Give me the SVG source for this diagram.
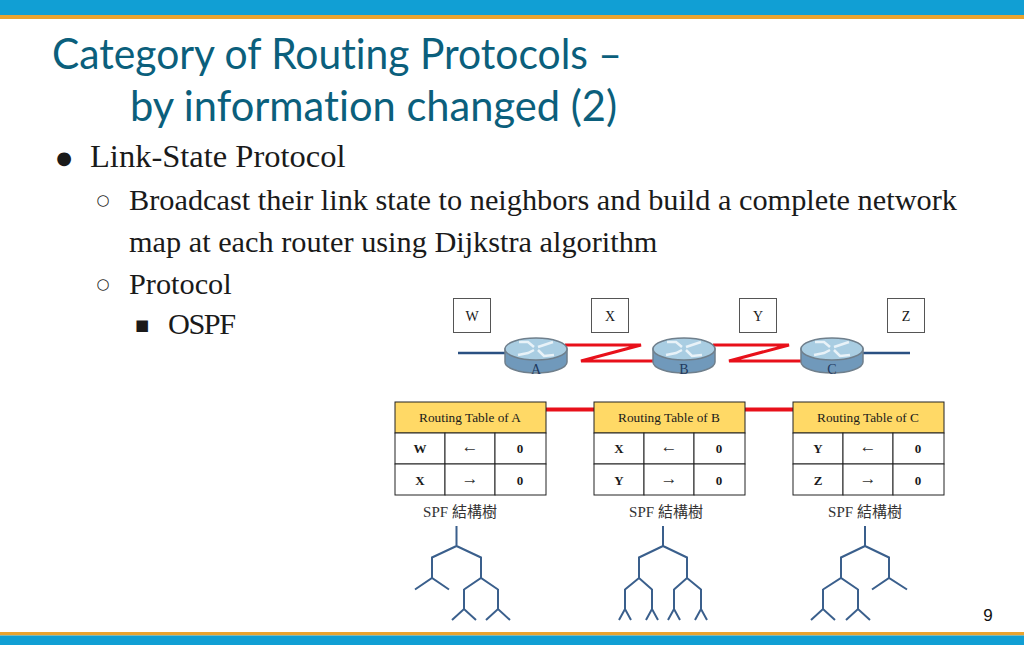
<svg xmlns="http://www.w3.org/2000/svg" width="1024" height="645" viewBox="0 0 1024 645">
<style>
.title{font:42px "Lato","Open Sans",sans-serif;fill:#0b5f7c;font-variant-ligatures:none}
.b1{font:32.500px "Liberation Serif",serif;fill:#1a1a1a}
.b2{font:30.300px "Liberation Serif",serif;fill:#1a1a1a}
.bul{font:15px "DejaVu Sans",sans-serif;fill:#1a1a1a;text-anchor:middle}
.box{fill:#fff;stroke:#555;stroke-width:1}
.lbl{font:14px "Liberation Serif",serif;fill:#1a1a1a;text-anchor:middle}
.rl{font:14px "Liberation Serif",serif;fill:#1f3a5f;text-anchor:middle}
.hd{fill:#ffd966;stroke:#222;stroke-width:1}
.cell{fill:#fff;stroke:#222;stroke-width:1}
.th{font:13.300px "Liberation Serif",serif;fill:#1a1a1a;text-anchor:middle}
.td{font:bold 13px "Liberation Serif",serif;fill:#1a1a1a;text-anchor:middle}
.ar{font:17px "Liberation Serif","DejaVu Sans",serif;fill:#333;text-anchor:middle}
.spf{font:15px "Liberation Serif","Noto Sans CJK TC",sans-serif;fill:#333;text-anchor:middle}
.red{fill:none;stroke:#e8101a;stroke-width:3}
.blue{fill:none;stroke:#2a5082;stroke-width:2.400}
.tree{fill:none;stroke:#3a5f8c;stroke-width:2}
.rtop{fill:#a9cde2;stroke:#6f7f8c;stroke-width:1.500}
.rbody{fill:#7099bb;stroke:#6f7f8c;stroke-width:1.500}
.rarrow{fill:none;stroke:#e8f2f8;stroke-width:2.500}
</style>
<defs>
<g id="router">
<path class="rbody" d="M-31 0V13A31 11 0 0 0 31 13V0Z"/>
<ellipse class="rtop" cx="0" cy="0" rx="31" ry="11"/>
<path class="rarrow" d="M-17-7L-8-7L-2-2M17-7L8-4L2-2M-18 6L-8 4L-2 1M18 6L8 7L2 1"/>
</g>
<g id="row">
<rect class="cell" x="0" y="0" width="50" height="31"/>
<rect class="cell" x="50" y="0" width="50" height="31"/>
<rect class="cell" x="100" y="0" width="51" height="31"/>
</g>
</defs>

<g id="frame">
<rect x="0" y="0" width="1024" height="15" fill="#119fd4"/>
<rect x="0" y="15" width="1024" height="4" fill="#eba42f"/>
<rect x="0" y="632" width="1024" height="3.500" fill="#eba42f"/>
<rect x="0" y="635.500" width="1024" height="9.500" fill="#119fd4"/>
</g>

<g id="text">
<text class="title" x="52" y="69" textLength="570" lengthAdjust="spacingAndGlyphs">Category of Routing Protocols –</text>
<text class="title" x="130" y="121" textLength="487" lengthAdjust="spacingAndGlyphs">by information changed (2)</text>
<text class="bul" x="64" y="164" style="font-size:18px">●</text>
<text class="b1" x="90" y="167">Link-State Protocol</text>
<text class="bul" x="103" y="205">○</text>
<text class="b2" x="129" y="210">Broadcast their link state to neighbors and build a complete network</text>
<text class="b2" x="129" y="252">map at each router using Dijkstra algorithm</text>
<text class="bul" x="103" y="289">○</text>
<text class="b2" x="129" y="294">Protocol</text>
<text class="bul" x="142" y="330">■</text>
<text class="b2" x="168" y="334" textLength="68">OSPF</text>
<text x="988" y="621" font-family="Liberation Sans,sans-serif" font-size="17" fill="#111" text-anchor="middle">9</text>
</g>

<g id="connectors">
<path class="blue" d="M458 353H506M860 353H910"/>
<path class="red" d="M565 345H641L581 361H654M713 345H789L729 361H802"/>
<path class="red" style="stroke-width:4" d="M546 409.500H594M745 409.500H793"/>
</g>

<g id="node-W"><rect class="box" x="453.500" y="298.500" width="37" height="34"/><text class="lbl" x="472" y="321">W</text></g>
<g id="node-X"><rect class="box" x="591.500" y="298.500" width="37" height="34"/><text class="lbl" x="610" y="321">X</text></g>
<g id="node-Y"><rect class="box" x="739.500" y="298.500" width="37" height="34"/><text class="lbl" x="758" y="321">Y</text></g>
<g id="node-Z"><rect class="box" x="887.500" y="298.500" width="37" height="34"/><text class="lbl" x="906" y="321">Z</text></g>

<g id="router-A"><use href="#router" x="536" y="349"/><text class="rl" x="536" y="374">A</text></g>
<g id="router-B"><use href="#router" x="684" y="349"/><text class="rl" x="684" y="374">B</text></g>
<g id="router-C"><use href="#router" x="832" y="349"/><text class="rl" x="832" y="374">C</text></g>

<g id="table-A">
<rect class="hd" x="395" y="402" width="151" height="31"/>
<text class="th" x="470" y="422">Routing Table of A</text>
<use href="#row" x="395" y="433"/><use href="#row" x="395" y="464"/>
<text class="td" x="420" y="453">W</text><text class="ar" x="470" y="452">←</text><text class="td" x="520" y="453">0</text>
<text class="td" x="420" y="485">X</text><text class="ar" x="470" y="484">→</text><text class="td" x="520" y="485">0</text>
<text class="spf" x="460" y="517">SPF 結構樹</text>
</g>
<g id="table-B">
<rect class="hd" x="594" y="402" width="151" height="31"/>
<text class="th" x="669" y="422">Routing Table of B</text>
<use href="#row" x="594" y="433"/><use href="#row" x="594" y="464"/>
<text class="td" x="619" y="453">X</text><text class="ar" x="669" y="452">←</text><text class="td" x="719" y="453">0</text>
<text class="td" x="619" y="485">Y</text><text class="ar" x="669" y="484">→</text><text class="td" x="719" y="485">0</text>
<text class="spf" x="666" y="517">SPF 結構樹</text>
</g>
<g id="table-C">
<rect class="hd" x="793" y="402" width="151" height="31"/>
<text class="th" x="868" y="422">Routing Table of C</text>
<use href="#row" x="793" y="433"/><use href="#row" x="793" y="464"/>
<text class="td" x="818" y="453">Y</text><text class="ar" x="868" y="452">←</text><text class="td" x="918" y="453">0</text>
<text class="td" x="818" y="485">Z</text><text class="ar" x="868" y="484">→</text><text class="td" x="918" y="485">0</text>
<text class="spf" x="865" y="517">SPF 結構樹</text>
</g>

<g id="tree-A"><path class="tree" d="M456.500 526V546L432 557.500V578M456.500 546L481 557.500V578M415 589.500L432 578L449 589.500M464 589.500L481 578L498 589.500M464 589V609M498 589V609M452 620L464 609L476 620M486 620L498 609L510 620"/></g>
<g id="tree-B"><path class="tree" d="M663 526V546L639 557.500V578M663 546L687 557.500V578M625 589.500L639 578L652 589.500M674 589.500L687 578L701 589.500M625 589V609M652 589V609M674 589V609M701 589V609M619 620L625 609L631 620M646 620L652 609L658 620M668 620L674 609L680 620M695 620L701 609L707 620"/></g>
<g id="tree-C"><path class="tree" d="M865 526V546L841 557.500V578M865 546L889 557.500V578M823 589.500L841 578L858 589.500M872 589.500L889 578L907 589.500M823 589V609M858 589V609M811 620L823 609L835 620M846 620L858 609L870 620"/></g>
</svg>
